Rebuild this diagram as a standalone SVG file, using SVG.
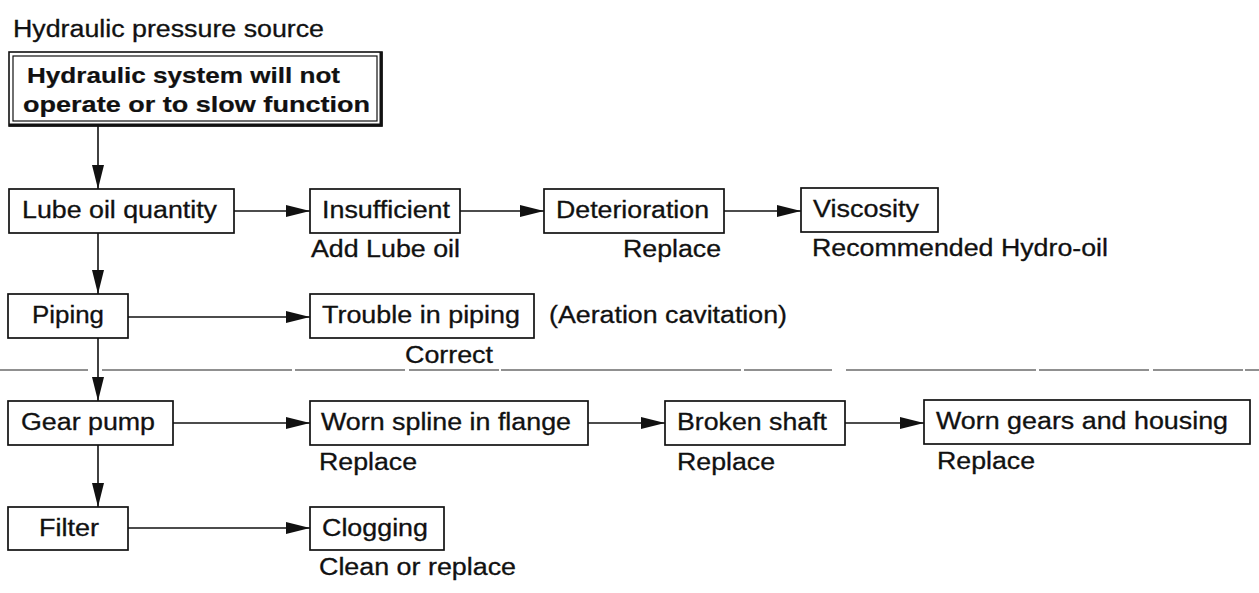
<svg xmlns="http://www.w3.org/2000/svg" width="1259" height="593" viewBox="0 0 1259 593">
<style>
  text { font-family: "Liberation Sans", Arial, sans-serif; font-size: 23px; fill: #111; stroke: #111; stroke-width: 0.3; }
  .b { font-weight: bold; font-size: 22px; stroke-width: 0.2; }
  .box { fill: #fff; stroke: #111; stroke-width: 1.7; }
  .edge { stroke: #111; stroke-width: 1.6; fill: none; }
  .sep { stroke: #222; stroke-width: 1.2; fill: none; stroke-dasharray: 88 14 190 3 110 4 90 2 240 3; }
</style>
<defs>
  <marker id="ah" viewBox="0 0 24 12" refX="24" refY="6" markerWidth="24" markerHeight="12" markerUnits="userSpaceOnUse" orient="auto">
    <path d="M0,0 L24,6 L0,12 Z" fill="#111"/>
  </marker>
</defs>
<rect width="1259" height="593" fill="#fff"/>

<text id="title" x="13" y="37" textLength="311" lengthAdjust="spacingAndGlyphs">Hydraulic pressure source</text>

<g id="connectors">
  <line class="edge" x1="98" y1="126" x2="98" y2="189" marker-end="url(#ah)"/>
  <line class="edge" x1="98" y1="233" x2="98" y2="294" marker-end="url(#ah)"/>
  <line class="edge" x1="98" y1="338" x2="98" y2="401" marker-end="url(#ah)"/>
  <line class="edge" x1="98" y1="445" x2="98" y2="507" marker-end="url(#ah)"/>
  <line class="edge" x1="234" y1="211" x2="310" y2="211" marker-end="url(#ah)"/>
  <line class="edge" x1="460" y1="211" x2="544" y2="211" marker-end="url(#ah)"/>
  <line class="edge" x1="724" y1="211" x2="801" y2="211" marker-end="url(#ah)"/>
  <line class="edge" x1="128" y1="317" x2="310" y2="317" marker-end="url(#ah)"/>
  <line class="edge" x1="173" y1="423" x2="310" y2="423" marker-end="url(#ah)"/>
  <line class="edge" x1="588" y1="423" x2="665" y2="423" marker-end="url(#ah)"/>
  <line class="edge" x1="845" y1="423" x2="924" y2="423" marker-end="url(#ah)"/>
  <line class="edge" x1="128" y1="528" x2="310" y2="528" marker-end="url(#ah)"/>
</g>

<line id="separator" class="sep" x1="0" y1="370" x2="1259" y2="370"/>

<g id="main">
  <rect x="9" y="52" width="373" height="74" fill="#fff" stroke="#111" stroke-width="1.6"/>
  <path d="M381,52 V125 H9" fill="none" stroke="#111" stroke-width="3"/>
  <rect x="13" y="56" width="364" height="65" fill="none" stroke="#111" stroke-width="1.2"/>
  <text class="b" x="27" y="83" textLength="313" lengthAdjust="spacingAndGlyphs">Hydraulic system will not</text>
  <text class="b" x="23" y="112" textLength="347" lengthAdjust="spacingAndGlyphs">operate or to slow function</text>
</g>

<g id="lube">
  <rect class="box" x="9" y="189" width="225" height="44"/>
  <text x="22" y="218" textLength="195" lengthAdjust="spacingAndGlyphs">Lube oil quantity</text>
</g>
<g id="insufficient">
  <rect class="box" x="310" y="189" width="150" height="44"/>
  <text x="322" y="218" textLength="128" lengthAdjust="spacingAndGlyphs">Insufficient</text>
  <text x="311" y="257" textLength="149" lengthAdjust="spacingAndGlyphs">Add Lube oil</text>
</g>
<g id="deterioration">
  <rect class="box" x="544" y="189" width="180" height="44"/>
  <text x="556" y="218" textLength="153" lengthAdjust="spacingAndGlyphs">Deterioration</text>
  <text x="623" y="257" textLength="98" lengthAdjust="spacingAndGlyphs">Replace</text>
</g>
<g id="viscosity">
  <rect class="box" x="801" y="188" width="137" height="44"/>
  <text x="813" y="217" textLength="106" lengthAdjust="spacingAndGlyphs">Viscosity</text>
  <text x="812" y="256" textLength="296" lengthAdjust="spacingAndGlyphs">Recommended Hydro-oil</text>
</g>

<g id="piping">
  <rect class="box" x="8" y="294" width="120" height="44"/>
  <text x="32" y="323" textLength="72" lengthAdjust="spacingAndGlyphs">Piping</text>
</g>
<g id="trouble">
  <rect class="box" x="310" y="294" width="224" height="44"/>
  <text x="322" y="323" textLength="198" lengthAdjust="spacingAndGlyphs">Trouble in piping</text>
  <text x="549" y="323" textLength="238" lengthAdjust="spacingAndGlyphs">(Aeration cavitation)</text>
  <text x="405" y="363" textLength="88" lengthAdjust="spacingAndGlyphs">Correct</text>
</g>

<g id="gearpump">
  <rect class="box" x="8" y="401" width="165" height="44"/>
  <text x="21" y="430" textLength="134" lengthAdjust="spacingAndGlyphs">Gear pump</text>
</g>
<g id="spline">
  <rect class="box" x="310" y="401" width="278" height="44"/>
  <text x="321" y="430" textLength="250" lengthAdjust="spacingAndGlyphs">Worn spline in flange</text>
  <text x="319" y="470" textLength="98" lengthAdjust="spacingAndGlyphs">Replace</text>
</g>
<g id="shaft">
  <rect class="box" x="665" y="401" width="180" height="44"/>
  <text x="677" y="430" textLength="150" lengthAdjust="spacingAndGlyphs">Broken shaft</text>
  <text x="677" y="470" textLength="98" lengthAdjust="spacingAndGlyphs">Replace</text>
</g>
<g id="gears">
  <rect class="box" x="924" y="400" width="326" height="44"/>
  <text x="936" y="429" textLength="292" lengthAdjust="spacingAndGlyphs">Worn gears and housing</text>
  <text x="937" y="469" textLength="98" lengthAdjust="spacingAndGlyphs">Replace</text>
</g>

<g id="filter">
  <rect class="box" x="8" y="507" width="120" height="43"/>
  <text x="39" y="536" textLength="60" lengthAdjust="spacingAndGlyphs">Filter</text>
</g>
<g id="clogging">
  <rect class="box" x="310" y="507" width="134" height="43"/>
  <text x="322" y="536" textLength="106" lengthAdjust="spacingAndGlyphs">Clogging</text>
  <text x="319" y="575" textLength="197" lengthAdjust="spacingAndGlyphs">Clean or replace</text>
</g>
</svg>
